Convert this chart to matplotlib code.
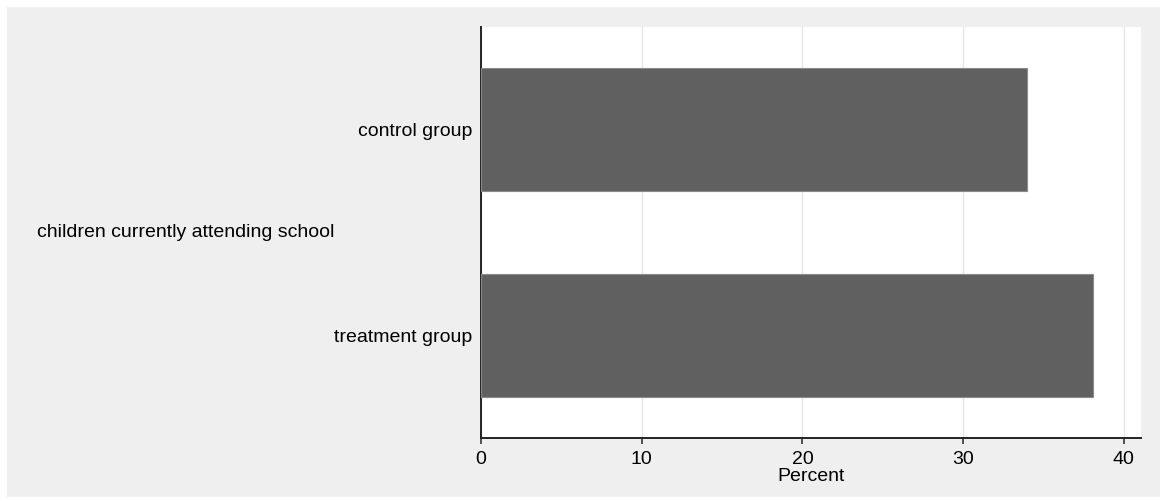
import matplotlib
matplotlib.use("Agg")
import matplotlib.pyplot as plt
from matplotlib.patches import Rectangle

# values (percent)
groups = ["treatment group", "control group"]
percent = [38.1, 34.0]
overall_label = "children currently attending school"
xticks = [0, 10, 20, 30, 40]

plt.rcParams['font.family'] = ['Liberation Sans', 'DejaVu Sans']
plt.rcParams['font.size'] = 14

fig = plt.figure(figsize=(11.64, 5.01), dpi=100, facecolor='white')
# stata-ish grey graph region
fig.patches.append(Rectangle((7 / 1164, 4 / 501), 1153 / 1164, 490 / 501,
                             transform=fig.transFigure, facecolor='#efefef',
                             edgecolor='none', zorder=-10))

ax = fig.add_axes([481 / 1164, 63 / 501, 660 / 1164, 411 / 501])
ax.set_facecolor('white')

pos = list(range(len(groups)))
ax.barh(pos, percent, height=0.6, color='#606060', edgecolor='#8a8a8a',
        linewidth=0.8, zorder=3)

ax.set_xlim(0, 41.07)
ax.set_ylim(-0.5, 1.5)
ax.set_xticks(xticks)
ax.set_yticks(pos)
ax.set_yticklabels(groups)
ax.tick_params(axis='y', length=0, pad=6)
ax.tick_params(axis='x', length=4.5, width=1.2, color='#333333', pad=5)
ax.grid(axis='x', color='#e6e6e6', linewidth=1, zorder=0)

for s in ['top', 'right']:
    ax.spines[s].set_visible(False)
for s in ['left', 'bottom']:
    ax.spines[s].set_color('#222222')
    ax.spines[s].set_linewidth(1.4)

ax.set_xlabel("Percent", labelpad=0)
ax.text((37 - 481) / 660, 0.5, overall_label, transform=ax.transAxes,
        ha='left', va='center')

fig.savefig("out.png", dpi=100, facecolor=fig.get_facecolor())
